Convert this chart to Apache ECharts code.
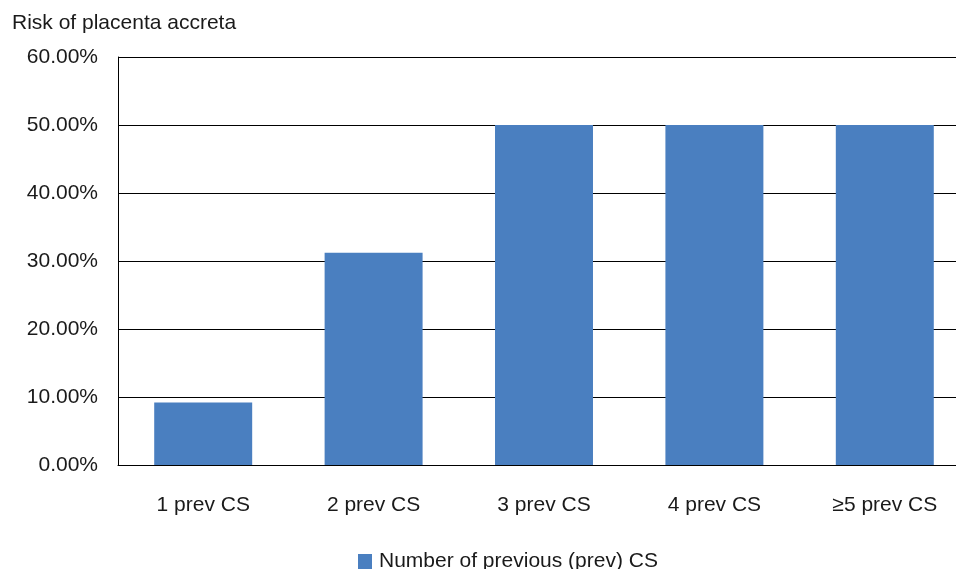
<!DOCTYPE html>
<html>
<head>
<meta charset="utf-8">
<script src="https://cdn.jsdelivr.net/npm/echarts@6/dist/echarts.min.js"></script>
<style>
  html, body { margin: 0; padding: 0; background: #fff; overflow: hidden; width: 956px; height: 569px; }
  /* the drawing surface is a little wider than the window, so the plot runs off the right edge */
  #chart { width: 970px; height: 569px; }
</style>
</head>
<body>
<div id="chart"></div>
<script>
// Number of previous caesarean sections
const categories = ['1 prev CS', '2 prev CS', '3 prev CS', '4 prev CS', '\u22655 prev CS'];
// Risk of placenta accreta, in percent
const riskValues = [9.2, 31.2, 50, 50, 50];
const seriesName = 'Number of previous (prev) CS';
const yTicks = { min: 0, max: 60, interval: 10 };

const FONT = '"Liberation Sans", Arial, sans-serif';
const chart = echarts.init(document.getElementById('chart'), null, { renderer: 'canvas' });

chart.setOption({
  animation: false,
  backgroundColor: '#ffffff',
  textStyle: { fontFamily: FONT, color: '#1a1a1a' },
  title: {
    text: 'Risk of placenta accreta',
    left: 12,
    top: 13,
    padding: 0,
    textStyle: { fontFamily: FONT, fontSize: 21, fontWeight: 'normal', color: '#1a1a1a' }
  },
  legend: {
    data: [seriesName],
    left: 358,
    top: 551,
    padding: 0,
    icon: 'rect',
    itemWidth: 14,
    itemHeight: 15,
    textStyle: { fontFamily: FONT, fontSize: 21, color: '#1a1a1a', padding: [0, 0, 0, 2] }
  },
  grid: { left: 118, top: 57, right: 0, bottom: 104, containLabel: false },
  xAxis: {
    type: 'category',
    data: categories,
    axisLine: { show: true, lineStyle: { color: '#000', width: 1 } },
    axisTick: { show: false },
    axisLabel: { fontFamily: FONT, fontSize: 21, color: '#1a1a1a', margin: 30 }
  },
  yAxis: {
    type: 'value',
    min: yTicks.min,
    max: yTicks.max,
    interval: yTicks.interval,
    axisLine: { show: true, lineStyle: { color: '#000', width: 1 } },
    axisTick: { show: false },
    splitLine: { show: true, lineStyle: { color: '#000', width: 1 } },
    axisLabel: {
      fontFamily: FONT, fontSize: 21, color: '#1a1a1a', margin: 20,
      formatter: v => v.toFixed(2) + '%'
    }
  },
  series: [{
    name: seriesName,
    type: 'bar',
    data: riskValues,
    barCategoryGap: '42.5%',
    itemStyle: { color: '#4A7FC0' }
  }]
});
</script>
</body>
</html>
